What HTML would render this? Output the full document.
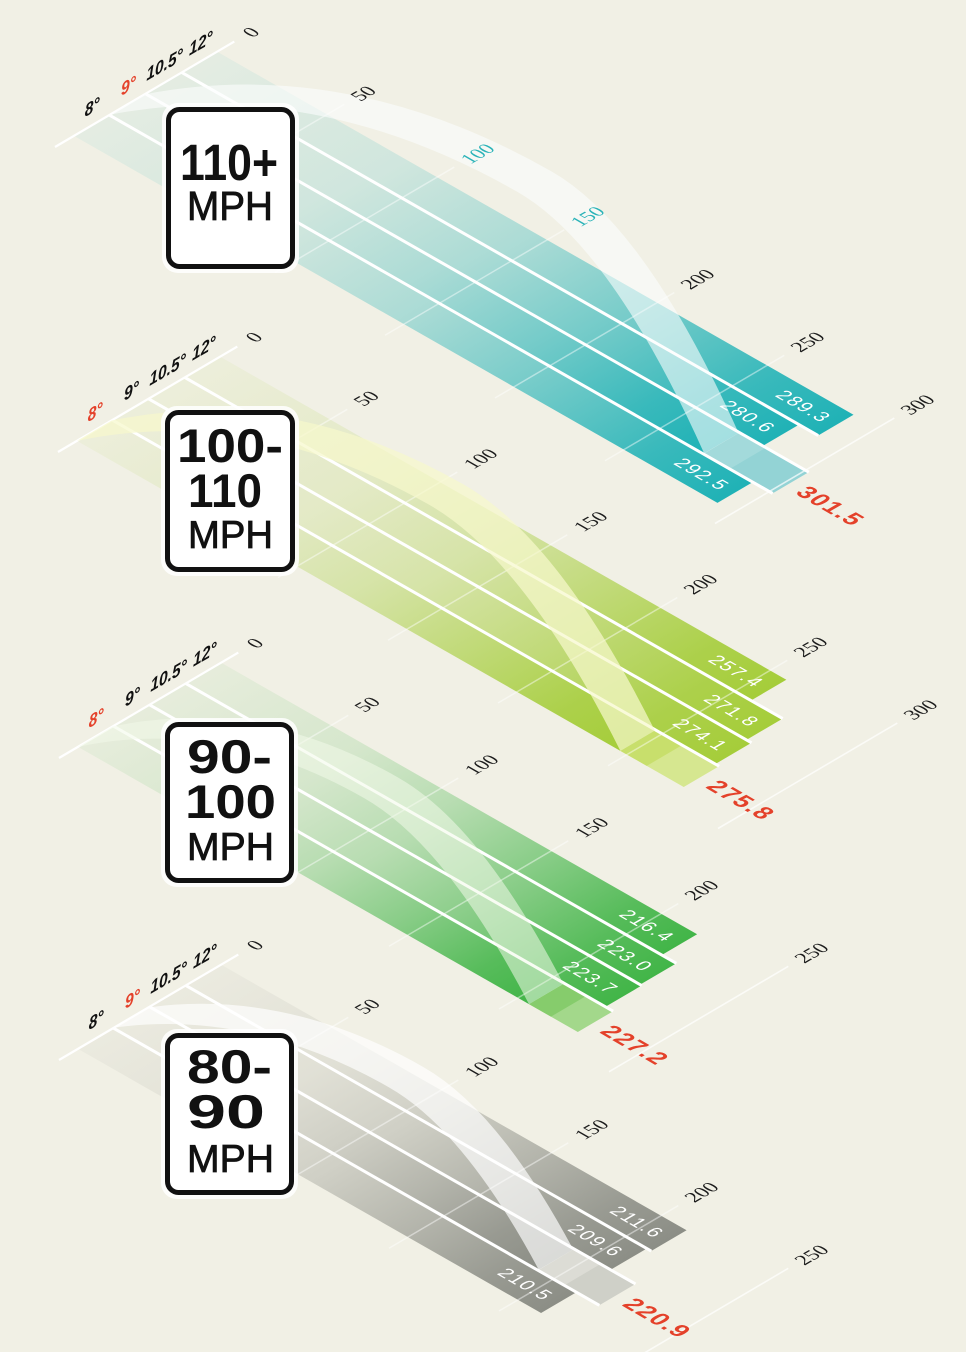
<!DOCTYPE html>
<html><head><meta charset="utf-8"><style>
html,body{margin:0;padding:0;background:#f1f0e5;}
svg{display:block;}
.tk{font-family:"Liberation Serif",serif;font-size:20px;fill:#1c1c1c;}
.dg{font-family:"Liberation Sans",sans-serif;font-size:18px;font-weight:bold;font-style:italic;fill:#111;}
.vl{font-family:"Liberation Sans",sans-serif;font-size:19px;fill:#fff;letter-spacing:1.5px;}
.rd{font-family:"Liberation Sans",sans-serif;font-size:24px;font-weight:bold;fill:#e4412a;letter-spacing:1.5px;}
.bx{font-family:"Liberation Sans",sans-serif;font-weight:bold;fill:#111;}
.mp{font-family:"Liberation Sans",sans-serif;fill:#111;stroke:#111;stroke-width:0.8;}
</style></head><body>
<svg width="966" height="1352" viewBox="0 0 966 1352" xmlns="http://www.w3.org/2000/svg">
<defs>
<linearGradient id="g1" x1="0" y1="0" x2="1" y2="0">
<stop offset="0" stop-color="#20b2b6" stop-opacity="0.06"/><stop offset="0.3" stop-color="#20b2b6" stop-opacity="0.16"/><stop offset="0.5" stop-color="#20b2b6" stop-opacity="0.33"/><stop offset="0.7" stop-color="#20b2b6" stop-opacity="0.6"/><stop offset="0.88" stop-color="#20b2b6" stop-opacity="0.88"/><stop offset="1" stop-color="#20b2b6" stop-opacity="1"/>
</linearGradient>
<linearGradient id="g2" x1="0" y1="0" x2="1" y2="0">
<stop offset="0" stop-color="#a5cd3a" stop-opacity="0.06"/><stop offset="0.3" stop-color="#a5cd3a" stop-opacity="0.18"/><stop offset="0.5" stop-color="#a5cd3a" stop-opacity="0.36"/><stop offset="0.7" stop-color="#a5cd3a" stop-opacity="0.64"/><stop offset="0.88" stop-color="#a5cd3a" stop-opacity="0.9"/><stop offset="1" stop-color="#a5cd3a" stop-opacity="1"/>
</linearGradient>
<linearGradient id="g3" x1="0" y1="0" x2="1" y2="0">
<stop offset="0" stop-color="#42b548" stop-opacity="0.06"/><stop offset="0.3" stop-color="#42b548" stop-opacity="0.16"/><stop offset="0.5" stop-color="#42b548" stop-opacity="0.33"/><stop offset="0.7" stop-color="#42b548" stop-opacity="0.6"/><stop offset="0.88" stop-color="#42b548" stop-opacity="0.88"/><stop offset="1" stop-color="#42b548" stop-opacity="1"/>
</linearGradient>
<linearGradient id="g4" x1="0" y1="0" x2="1" y2="0">
<stop offset="0" stop-color="#8c8e86" stop-opacity="0.06"/><stop offset="0.3" stop-color="#8c8e86" stop-opacity="0.16"/><stop offset="0.5" stop-color="#8c8e86" stop-opacity="0.33"/><stop offset="0.7" stop-color="#8c8e86" stop-opacity="0.6"/><stop offset="0.88" stop-color="#8c8e86" stop-opacity="0.88"/><stop offset="1" stop-color="#8c8e86" stop-opacity="1"/>
</linearGradient>
</defs>
<rect width="966" height="1352" fill="#f1f0e5"/>

<!-- ================= PANEL 1 ================= -->
<g transform="matrix(2.2 1.255 0.862 -0.507 55 147)">
<rect x="0" y="22" width="292.5" height="40" fill="url(#g1)"/>
<rect x="0" y="64" width="270" height="40" fill="url(#g1)"/>
<rect x="0" y="106" width="280.6" height="40" fill="url(#g1)"/>
<rect x="0" y="148" width="289.3" height="40" fill="url(#g1)"/>
<rect x="270" y="64" width="31.5" height="40" fill="#93d3d5"/>
<rect x="270" y="64" width="12" height="40" fill="#a3dadb"/>
<g stroke="#fff">
<line x1="0" y1="0" x2="0" y2="208" stroke-width="2.2" vector-effect="non-scaling-stroke"/>
<line x1="50" y1="0" x2="50" y2="208" stroke-width="1.5" stroke-opacity="0.45" vector-effect="non-scaling-stroke"/>
<line x1="100" y1="0" x2="100" y2="208" stroke-width="1.5" stroke-opacity="0.45" vector-effect="non-scaling-stroke"/>
<line x1="150" y1="0" x2="150" y2="208" stroke-width="1.5" stroke-opacity="0.45" vector-effect="non-scaling-stroke"/>
<line x1="200" y1="0" x2="200" y2="208" stroke-width="1.5" stroke-opacity="0.45" vector-effect="non-scaling-stroke"/>
<line x1="250" y1="0" x2="250" y2="208" stroke-width="1.5" stroke-opacity="0.45" vector-effect="non-scaling-stroke"/>
<line x1="300" y1="0" x2="300" y2="208" stroke-width="1.6" stroke-opacity="0.7" vector-effect="non-scaling-stroke"/>
<line x1="0" y1="63" x2="301.5" y2="63" stroke-width="3" vector-effect="non-scaling-stroke"/>
<line x1="0" y1="105" x2="301.5" y2="105" stroke-width="3" vector-effect="non-scaling-stroke"/>
<line x1="0" y1="147" x2="289.3" y2="147" stroke-width="3" vector-effect="non-scaling-stroke"/>
</g>
</g>
<g transform="matrix(2.2 1.255 0 -1 110.2 114.6)">
<path d="M0,0 Q92.5,155 185,155 Q227.5,155 270,0 L285.67,39.95 Q243.17,194.95 200.67,194.95 Q108.17,194.95 15.67,39.95 Z" fill="#fbfefe" fill-opacity="0.6"/>
</g>
<text class="tk" transform="matrix(0.866 -0.5 0.866 0.5 246.3 34.5)" y="7">0</text>
<text class="tk" transform="matrix(0.866 -0.5 0.866 0.5 354.3 98.25)" y="7">50</text>
<text class="tk" transform="matrix(0.866 -0.5 0.866 0.5 464.3 161)" y="7" style="fill:#2ab3b8">100</text>
<text class="tk" transform="matrix(0.866 -0.5 0.866 0.5 574.3 223.75)" y="7" style="fill:#2ab3b8">150</text>
<text class="tk" transform="matrix(0.866 -0.5 0.866 0.5 684.3 286.5)" y="7">200</text>
<text class="tk" transform="matrix(0.866 -0.5 0.866 0.5 794.3 349.25)" y="7">250</text>
<text class="tk" transform="matrix(0.866 -0.5 0.866 0.5 904.3 412)" y="7">300</text>
<text class="dg" transform="matrix(0.866 -0.5 0 1 92.2 106.7)" y="6.3" text-anchor="middle">8°</text>
<text class="dg" transform="matrix(0.866 -0.5 0 1 128.4 85.4)" y="6.3" text-anchor="middle" style="fill:#e4412a">9°</text>
<text class="dg" transform="matrix(0.866 -0.5 0 1 164.6 64.1)" y="6.3" text-anchor="middle">10.5°</text>
<text class="dg" transform="matrix(0.866 -0.5 0 1 200.8 42.8)" y="6.3" text-anchor="middle">12°</text>
<text class="vl" transform="matrix(0.866 0.5 -0.866 0.5 725.9 487.8)" y="6.6" text-anchor="end">292.5</text>
<text class="vl" transform="matrix(0.866 0.5 -0.866 0.5 772.1 430.2)" y="6.6" text-anchor="end">280.6</text>
<text class="vl" transform="matrix(0.866 0.5 -0.866 0.5 827.5 419.9)" y="6.6" text-anchor="end">289.3</text>
<text class="rd" transform="matrix(0.866 0.5 -0.866 0.5 801.7 489.1)" y="8.4">301.5</text>
<rect x="162" y="103" width="137" height="170" rx="16" fill="#fff" fill-opacity="0.85"/>
<rect x="168.5" y="109.5" width="124" height="157" rx="11" fill="#fff" stroke="#111" stroke-width="5"/>
<text class="bx" x="180" y="180" font-size="51" textLength="98" lengthAdjust="spacingAndGlyphs">110+</text>
<text class="mp" x="187" y="220" font-size="41" textLength="86" lengthAdjust="spacingAndGlyphs">MPH</text>

<!-- ================= PANEL 2 ================= -->
<g transform="matrix(2.2 1.255 0.862 -0.507 58 452)">
<rect x="0" y="22" width="247" height="40" fill="url(#g2)"/>
<rect x="0" y="64" width="274.1" height="40" fill="url(#g2)"/>
<rect x="0" y="106" width="271.8" height="40" fill="url(#g2)"/>
<rect x="0" y="148" width="257.4" height="40" fill="url(#g2)"/>
<rect x="247" y="22" width="28.8" height="40" fill="#d6e790"/>
<rect x="247" y="22" width="12" height="40" fill="#c8df6c"/>
<g stroke="#fff">
<line x1="0" y1="0" x2="0" y2="208" stroke-width="2.2" vector-effect="non-scaling-stroke"/>
<line x1="50" y1="0" x2="50" y2="208" stroke-width="1.5" stroke-opacity="0.45" vector-effect="non-scaling-stroke"/>
<line x1="100" y1="0" x2="100" y2="208" stroke-width="1.5" stroke-opacity="0.45" vector-effect="non-scaling-stroke"/>
<line x1="150" y1="0" x2="150" y2="208" stroke-width="1.5" stroke-opacity="0.45" vector-effect="non-scaling-stroke"/>
<line x1="200" y1="0" x2="200" y2="208" stroke-width="1.5" stroke-opacity="0.45" vector-effect="non-scaling-stroke"/>
<line x1="250" y1="0" x2="250" y2="208" stroke-width="1.5" stroke-opacity="0.45" vector-effect="non-scaling-stroke"/>
<line x1="300" y1="0" x2="300" y2="208" stroke-width="1.6" stroke-opacity="0.7" vector-effect="non-scaling-stroke"/>
<line x1="0" y1="63" x2="275.8" y2="63" stroke-width="3" vector-effect="non-scaling-stroke"/>
<line x1="0" y1="105" x2="274.1" y2="105" stroke-width="3" vector-effect="non-scaling-stroke"/>
<line x1="0" y1="147" x2="271.8" y2="147" stroke-width="3" vector-effect="non-scaling-stroke"/>
</g>
</g>
<g transform="matrix(2.2 1.255 0 -1 76.96 440.85)">
<path d="M0,0 Q80,137 160,137 Q203.5,137 247,0 L262.67,39.95 Q219.17,176.95 175.67,176.95 Q95.67,176.95 15.67,39.95 Z" fill="#f6f8cc" fill-opacity="0.72"/>
</g>
<text class="tk" transform="matrix(0.866 -0.5 0.866 0.5 249.3 339.5)" y="7">0</text>
<text class="tk" transform="matrix(0.866 -0.5 0.866 0.5 357.3 403.25)" y="7">50</text>
<text class="tk" transform="matrix(0.866 -0.5 0.866 0.5 467.3 466)" y="7">100</text>
<text class="tk" transform="matrix(0.866 -0.5 0.866 0.5 577.3 528.75)" y="7">150</text>
<text class="tk" transform="matrix(0.866 -0.5 0.866 0.5 687.3 591.5)" y="7">200</text>
<text class="tk" transform="matrix(0.866 -0.5 0.866 0.5 797.3 654.25)" y="7">250</text>
<text class="tk" transform="matrix(0.866 -0.5 0.866 0.5 907.3 717)" y="7">300</text>
<text class="dg" transform="matrix(0.866 -0.5 0 1 95.2 411.7)" y="6.3" text-anchor="middle" style="fill:#e4412a">8°</text>
<text class="dg" transform="matrix(0.866 -0.5 0 1 131.4 390.4)" y="6.3" text-anchor="middle">9°</text>
<text class="dg" transform="matrix(0.866 -0.5 0 1 167.6 369.1)" y="6.3" text-anchor="middle">10.5°</text>
<text class="dg" transform="matrix(0.866 -0.5 0 1 203.8 347.8)" y="6.3" text-anchor="middle">12°</text>
<text class="vl" transform="matrix(0.866 0.5 -0.866 0.5 724.6 748.4)" y="6.6" text-anchor="end">274.1</text>
<text class="vl" transform="matrix(0.866 0.5 -0.866 0.5 755.8 724.2)" y="6.6" text-anchor="end">271.8</text>
<text class="vl" transform="matrix(0.866 0.5 -0.866 0.5 760.3 684.8)" y="6.6" text-anchor="end">257.4</text>
<text class="rd" transform="matrix(0.866 0.5 -0.866 0.5 712 783.1)" y="8.4">275.8</text>
<rect x="161" y="406" width="138" height="170" rx="16" fill="#fff" fill-opacity="0.85"/>
<rect x="167.5" y="412.5" width="125" height="157" rx="11" fill="#fff" stroke="#111" stroke-width="5"/>
<text class="bx" x="177" y="462" font-size="47" textLength="106" lengthAdjust="spacingAndGlyphs">100-</text>
<text class="bx" x="188" y="507" font-size="47" textLength="74" lengthAdjust="spacingAndGlyphs">110</text>
<text class="mp" x="188" y="548" font-size="39" textLength="85" lengthAdjust="spacingAndGlyphs">MPH</text>

<!-- ================= PANEL 3 ================= -->
<g transform="matrix(2.2 1.255 0.862 -0.507 59 758)">
<rect x="0" y="22" width="205" height="40" fill="url(#g3)"/>
<rect x="0" y="64" width="223.7" height="40" fill="url(#g3)"/>
<rect x="0" y="106" width="223" height="40" fill="url(#g3)"/>
<rect x="0" y="148" width="216.4" height="40" fill="url(#g3)"/>
<rect x="205" y="22" width="22.2" height="40" fill="#a3d88b"/>
<rect x="205" y="22" width="10" height="40" fill="#86cc6c"/>
<g stroke="#fff">
<line x1="0" y1="0" x2="0" y2="208" stroke-width="2.2" vector-effect="non-scaling-stroke"/>
<line x1="50" y1="0" x2="50" y2="208" stroke-width="1.5" stroke-opacity="0.45" vector-effect="non-scaling-stroke"/>
<line x1="100" y1="0" x2="100" y2="208" stroke-width="1.5" stroke-opacity="0.45" vector-effect="non-scaling-stroke"/>
<line x1="150" y1="0" x2="150" y2="208" stroke-width="1.5" stroke-opacity="0.45" vector-effect="non-scaling-stroke"/>
<line x1="200" y1="0" x2="200" y2="208" stroke-width="1.5" stroke-opacity="0.45" vector-effect="non-scaling-stroke"/>
<line x1="250" y1="0" x2="250" y2="208" stroke-width="1.6" stroke-opacity="0.7" vector-effect="non-scaling-stroke"/>
<line x1="0" y1="63" x2="227.2" y2="63" stroke-width="3" vector-effect="non-scaling-stroke"/>
<line x1="0" y1="105" x2="223.7" y2="105" stroke-width="3" vector-effect="non-scaling-stroke"/>
<line x1="0" y1="147" x2="223" y2="147" stroke-width="3" vector-effect="non-scaling-stroke"/>
</g>
</g>
<g transform="matrix(2.2 1.255 0 -1 77.96 746.85)">
<path d="M0,0 Q65,112 130,112 Q167.5,112 205,0 L220.67,39.95 Q183.17,151.95 145.67,151.95 Q80.67,151.95 15.67,39.95 Z" fill="#f2f9ea" fill-opacity="0.55"/>
</g>
<text class="tk" transform="matrix(0.866 -0.5 0.866 0.5 250.3 645.5)" y="7">0</text>
<text class="tk" transform="matrix(0.866 -0.5 0.866 0.5 358.3 709.25)" y="7">50</text>
<text class="tk" transform="matrix(0.866 -0.5 0.866 0.5 468.3 772)" y="7">100</text>
<text class="tk" transform="matrix(0.866 -0.5 0.866 0.5 578.3 834.75)" y="7">150</text>
<text class="tk" transform="matrix(0.866 -0.5 0.866 0.5 688.3 897.5)" y="7">200</text>
<text class="tk" transform="matrix(0.866 -0.5 0.866 0.5 798.3 960.25)" y="7">250</text>
<text class="dg" transform="matrix(0.866 -0.5 0 1 96.2 717.7)" y="6.3" text-anchor="middle" style="fill:#e4412a">8°</text>
<text class="dg" transform="matrix(0.866 -0.5 0 1 132.4 696.4)" y="6.3" text-anchor="middle">9°</text>
<text class="dg" transform="matrix(0.866 -0.5 0 1 168.6 675.1)" y="6.3" text-anchor="middle">10.5°</text>
<text class="dg" transform="matrix(0.866 -0.5 0 1 204.8 653.8)" y="6.3" text-anchor="middle">12°</text>
<text class="vl" transform="matrix(0.866 0.5 -0.866 0.5 614.7 991.1)" y="6.6" text-anchor="end">223.7</text>
<text class="vl" transform="matrix(0.866 0.5 -0.866 0.5 649.4 969)" y="6.6" text-anchor="end">223.0</text>
<text class="vl" transform="matrix(0.866 0.5 -0.866 0.5 671.1 939.4)" y="6.6" text-anchor="end">216.4</text>
<text class="rd" transform="matrix(0.866 0.5 -0.866 0.5 606 1028.1)" y="8.4">227.2</text>
<rect x="161" y="718" width="137" height="169" rx="16" fill="#fff" fill-opacity="0.85"/>
<rect x="167.5" y="724.5" width="124" height="156" rx="11" fill="#fff" stroke="#111" stroke-width="5"/>
<text class="bx" x="187" y="773" font-size="47" textLength="85" lengthAdjust="spacingAndGlyphs">90-</text>
<text class="bx" x="185" y="818" font-size="47" textLength="91" lengthAdjust="spacingAndGlyphs">100</text>
<text class="mp" x="187" y="860" font-size="39" textLength="87" lengthAdjust="spacingAndGlyphs">MPH</text>

<!-- ================= PANEL 4 ================= -->
<g transform="matrix(2.2 1.255 0.862 -0.507 59 1060)">
<rect x="0" y="22" width="210.5" height="40" fill="url(#g4)"/>
<rect x="0" y="64" width="193" height="40" fill="url(#g4)"/>
<rect x="0" y="106" width="209.6" height="40" fill="url(#g4)"/>
<rect x="0" y="148" width="211.6" height="40" fill="url(#g4)"/>
<rect x="193" y="64" width="27.9" height="40" fill="#cfd0c8"/>
<rect x="193" y="64" width="12" height="40" fill="#dcdcd5"/>
<g stroke="#fff">
<line x1="0" y1="0" x2="0" y2="208" stroke-width="2.2" vector-effect="non-scaling-stroke"/>
<line x1="50" y1="0" x2="50" y2="208" stroke-width="1.5" stroke-opacity="0.45" vector-effect="non-scaling-stroke"/>
<line x1="100" y1="0" x2="100" y2="208" stroke-width="1.5" stroke-opacity="0.45" vector-effect="non-scaling-stroke"/>
<line x1="150" y1="0" x2="150" y2="208" stroke-width="1.5" stroke-opacity="0.45" vector-effect="non-scaling-stroke"/>
<line x1="200" y1="0" x2="200" y2="208" stroke-width="1.5" stroke-opacity="0.45" vector-effect="non-scaling-stroke"/>
<line x1="250" y1="0" x2="250" y2="208" stroke-width="1.6" stroke-opacity="0.7" vector-effect="non-scaling-stroke"/>
<line x1="0" y1="63" x2="220.9" y2="63" stroke-width="3" vector-effect="non-scaling-stroke"/>
<line x1="0" y1="105" x2="220.9" y2="105" stroke-width="3" vector-effect="non-scaling-stroke"/>
<line x1="0" y1="147" x2="211.6" y2="147" stroke-width="3" vector-effect="non-scaling-stroke"/>
</g>
</g>
<g transform="matrix(2.2 1.255 0 -1 114.2 1027.6)">
<path d="M0,0 Q62.5,97 125,97 Q159,97 193,0 L208.67,39.95 Q174.67,136.95 140.67,136.95 Q78.17,136.95 15.67,39.95 Z" fill="#ffffff" fill-opacity="0.68"/>
</g>
<text class="tk" transform="matrix(0.866 -0.5 0.866 0.5 250.3 947.5)" y="7">0</text>
<text class="tk" transform="matrix(0.866 -0.5 0.866 0.5 358.3 1011.25)" y="7">50</text>
<text class="tk" transform="matrix(0.866 -0.5 0.866 0.5 468.3 1074)" y="7">100</text>
<text class="tk" transform="matrix(0.866 -0.5 0.866 0.5 578.3 1136.75)" y="7">150</text>
<text class="tk" transform="matrix(0.866 -0.5 0.866 0.5 688.3 1199.5)" y="7">200</text>
<text class="tk" transform="matrix(0.866 -0.5 0.866 0.5 798.3 1262.25)" y="7">250</text>
<text class="dg" transform="matrix(0.866 -0.5 0 1 96.2 1019.7)" y="6.3" text-anchor="middle">8°</text>
<text class="dg" transform="matrix(0.866 -0.5 0 1 132.4 998.4)" y="6.3" text-anchor="middle" style="fill:#e4412a">9°</text>
<text class="dg" transform="matrix(0.866 -0.5 0 1 168.6 977.1)" y="6.3" text-anchor="middle">10.5°</text>
<text class="dg" transform="matrix(0.866 -0.5 0 1 204.8 955.8)" y="6.3" text-anchor="middle">12°</text>
<text class="vl" transform="matrix(0.866 0.5 -0.866 0.5 549.5 1297.9)" y="6.6" text-anchor="end">210.5</text>
<text class="vl" transform="matrix(0.866 0.5 -0.866 0.5 619.9 1254.1)" y="6.6" text-anchor="end">209.6</text>
<text class="vl" transform="matrix(0.866 0.5 -0.866 0.5 660.5 1235.3)" y="6.6" text-anchor="end">211.6</text>
<text class="rd" transform="matrix(0.866 0.5 -0.866 0.5 628.4 1300.9)" y="8.4">220.9</text>
<rect x="161" y="1029" width="137" height="170" rx="16" fill="#fff" fill-opacity="0.85"/>
<rect x="167.5" y="1035.5" width="124" height="157" rx="11" fill="#fff" stroke="#111" stroke-width="5"/>
<text class="bx" x="187" y="1083" font-size="47" textLength="85" lengthAdjust="spacingAndGlyphs">80-</text>
<text class="bx" x="187" y="1128" font-size="47" textLength="78" lengthAdjust="spacingAndGlyphs">90</text>
<text class="mp" x="187" y="1172" font-size="39" textLength="87" lengthAdjust="spacingAndGlyphs">MPH</text>
</svg>
</body></html>
